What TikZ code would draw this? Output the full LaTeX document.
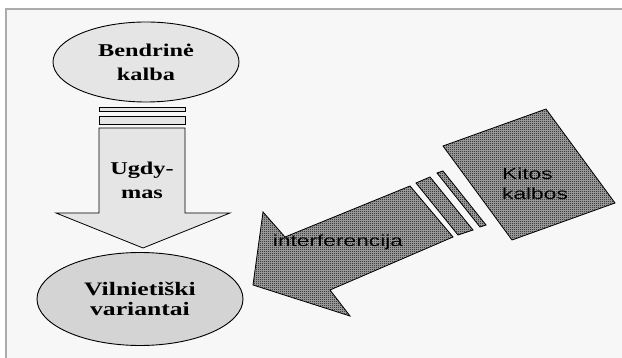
\documentclass[tikz,border=0pt]{standalone}
\usepackage{fontspec}
\usetikzlibrary{shapes.geometric,patterns}

\newfontfamily\lentfont[FakeStretch=1.35]{Liberation Serif}
\newfontfamily\kitfont[FakeStretch=1.42]{Liberation Sans}

\definecolor{paper}{HTML}{F7F7F7}
\definecolor{framegray}{HTML}{ABABAB}

% fine black and white dither, as in the scanned figure
\pgfdeclarepatternformonly{finecheck}{\pgfpointorigin}{\pgfqpoint{2pt}{2pt}}{\pgfqpoint{2pt}{2pt}}{
  \pgfpathrectangle{\pgfpointorigin}{\pgfqpoint{1pt}{1pt}}
  \pgfpathrectangle{\pgfqpoint{1pt}{1pt}}{\pgfqpoint{1pt}{1pt}}
  \pgfusepath{fill}}

\begin{document}
\begin{tikzpicture}[x=1pt,y=-1pt,
    granite/.style={draw, line width=0.9pt, fill=black!10},
    marble/.style={draw, line width=0.9pt, fill=black!17},
    dither/.style={draw, line width=0.8pt, preaction={fill=black!32}, pattern=finecheck, pattern color=black},
    lentword/.style={font=\lentfont\bfseries\fontsize{18}{24}\selectfont, align=center, inner sep=0pt},
    kitword/.style={font=\kitfont\fontsize{16}{20}\selectfont, inner sep=0pt}]
    \useasboundingbox (0,0) rectangle (622,358);

    % Frame
    \fill[paper] (6,9) rectangle (622,358);
    \draw[framegray, line width=1.6pt] (6,358) -- (6,9) -- (622,9);

    % Top ellipse
    \node [ellipse, granite, minimum width=186pt, minimum height=80pt, lentword] (bendrine) at (146,62) {Bendrinė\\kalba};

    % Broken arrow down
    \draw[granite, line width=0.8pt] (99,107) rectangle (185,111);
    \draw[granite, line width=0.8pt] (99,116) rectangle (185,124);
    \draw[granite, line width=0.8pt] (99,128) -- (185,128) -- (185,213) -- (230,213) -- (143,248) -- (56,213) -- (99,213) -- cycle;
    \node [lentword] (ugdymas) at (142,180) {Ugdy-\\mas};

    % Bottom ellipse
    \node [ellipse, marble, minimum width=206pt, minimum height=93pt, lentword, font=\lentfont\bfseries\fontsize{19}{20}\selectfont] (vilnius) at (140,299) {Vilnietiški\\variantai};

    % Other languages
    \draw[dither] (443,146) -- (546,109) -- (615,203) -- (512,240) -- cycle;
    \node [kitword, align=left, anchor=west] (kitos) at (502,184) {Kitos\\kalbos};

    % Broken arrow to the left
    \draw[dither] (437,173) -- (443,171) -- (486,225) -- (480,227) -- cycle;
    \draw[dither] (416,183) -- (430,177) -- (473,230) -- (458,235) -- cycle;
    \draw[dither] (253,285) -- (263,212) -- (285,237) -- (410,186) -- (453,237) -- (330,290) -- (350,316) -- cycle;
    \node [kitword, anchor=base] (interf) at (338,247) {interferencija};
\end{tikzpicture}
\end{document}
